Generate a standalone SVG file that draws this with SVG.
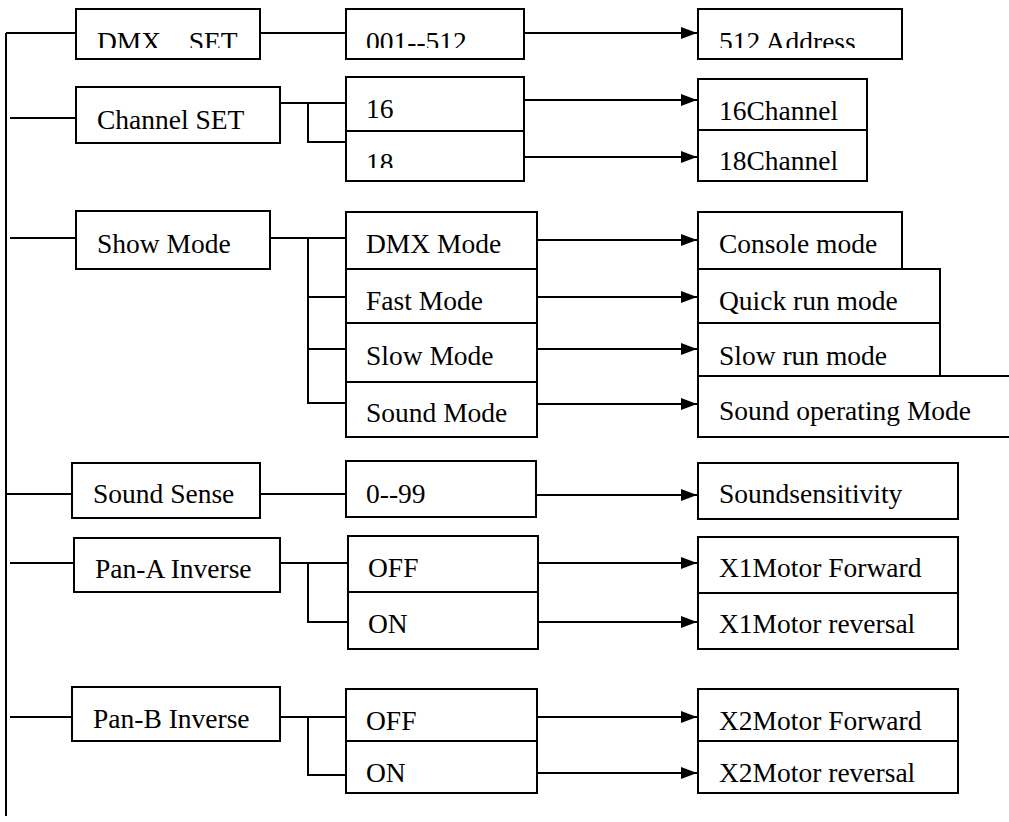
<svg xmlns="http://www.w3.org/2000/svg" width="1009" height="822" viewBox="0 0 1009 822">
<style>
.b{fill:#fff;stroke:#000;stroke-width:2}
.t{font-family:"Liberation Serif","Times New Roman",serif;font-size:27.5px;fill:#000;white-space:pre}
.c{fill:none;stroke:#000;stroke-width:2}
.a{fill:none;stroke:#000;stroke-width:2.2;marker-end:url(#ah)}
</style>
<defs>
<marker id="ah" markerUnits="userSpaceOnUse" markerWidth="16" markerHeight="12" refX="16" refY="6" orient="auto">
<path d="M0,0 L16,6 L0,12 z" fill="#000"/>
</marker>
<clipPath id="top"><rect x="0" y="0" width="1009" height="48"/></clipPath>
<clipPath id="r18"><rect x="340" y="131" width="200" height="37"/></clipPath>
</defs>
<rect width="1009" height="822" fill="#fff"/>
<g id="connectors">
<path class="c" d="M6,33 V816"/>
<path class="c" d="M6,33 H76 M10,118 H76 M10,238 H76 M6,494 H72 M10,563 H74 M10,717 H72"/>
<path class="c" d="M260,33 H346"/>
<path class="c" d="M280,103 H346 M308,103 V142 H346"/>
<path class="c" d="M270,238 H346 M308,238 V403 H346 M308,297 H348 M308,349 H348"/>
<path class="c" d="M260,494 H346"/>
<path class="c" d="M280,563 H348 M308,563 V622 H348"/>
<path class="c" d="M280,717 H346 M308,717 V775 H346"/>
<line class="a" x1="524" y1="33" x2="697" y2="33"/>
<line class="a" x1="524" y1="100" x2="697" y2="100"/>
<line class="a" x1="524" y1="157" x2="697" y2="157"/>
<line class="a" x1="537" y1="240" x2="697" y2="240"/>
<line class="a" x1="537" y1="297" x2="697" y2="297"/>
<line class="a" x1="537" y1="349" x2="697" y2="349"/>
<line class="a" x1="537" y1="404" x2="697" y2="404"/>
<line class="a" x1="536" y1="495" x2="697" y2="495"/>
<line class="a" x1="535" y1="563" x2="697" y2="563"/>
<line class="a" x1="538" y1="622" x2="697" y2="622"/>
<line class="a" x1="537" y1="717" x2="697" y2="717"/>
<line class="a" x1="537" y1="773" x2="697" y2="773"/>
</g>
<g id="n-dmxset"><rect class="b" x="76" y="9" width="184" height="50"/><text class="t" x="97" y="51" clip-path="url(#top)" xml:space="preserve">DMX    SET</text></g>
<g id="n-channelset"><rect class="b" x="76" y="87" width="204" height="56"/><text class="t" x="97" y="129">Channel SET</text></g>
<g id="n-showmode"><rect class="b" x="76" y="211" width="194" height="58"/><text class="t" x="97" y="253">Show Mode</text></g>
<g id="n-soundsense"><rect class="b" x="72" y="463" width="188" height="55"/><text class="t" x="93" y="503">Sound Sense</text></g>
<g id="n-pana"><rect class="b" x="74" y="538" width="206" height="54"/><text class="t" x="95" y="578">Pan-A Inverse</text></g>
<g id="n-panb"><rect class="b" x="72" y="687" width="208" height="54"/><text class="t" x="93" y="728">Pan-B Inverse</text></g>

<g id="n-001"><rect class="b" x="346" y="9" width="178" height="50"/><text class="t" x="366" y="51" clip-path="url(#top)">001--512</text></g>
<g id="n-16"><rect class="b" x="346" y="77" width="178" height="54"/><text class="t" x="366" y="118">16</text></g>
<g id="n-18"><rect class="b" x="346" y="131" width="178" height="50"/><text class="t" x="366" y="172" clip-path="url(#r18)">18</text></g>
<g id="n-dmxmode"><rect class="b" x="346" y="212" width="191" height="57"/><text class="t" x="366" y="253">DMX Mode</text></g>
<g id="n-fastmode"><rect class="b" x="346" y="269" width="191" height="54"/><text class="t" x="366" y="310">Fast Mode</text></g>
<g id="n-slowmode"><rect class="b" x="346" y="323" width="191" height="59"/><text class="t" x="366" y="365">Slow Mode</text></g>
<g id="n-soundmode"><rect class="b" x="346" y="382" width="191" height="55"/><text class="t" x="366" y="422">Sound Mode</text></g>
<g id="n-099"><rect class="b" x="346" y="461" width="190" height="56"/><text class="t" x="366" y="503">0--99</text></g>
<g id="n-offa"><rect class="b" x="348" y="536" width="190" height="56"/><text class="t" x="368" y="577">OFF</text></g>
<g id="n-ona"><rect class="b" x="348" y="592" width="190" height="57"/><text class="t" x="368" y="633">ON</text></g>
<g id="n-offb"><rect class="b" x="346" y="689" width="191" height="52"/><text class="t" x="366" y="730">OFF</text></g>
<g id="n-onb"><rect class="b" x="346" y="741" width="191" height="52"/><text class="t" x="366" y="782">ON</text></g>

<g id="n-512addr"><rect class="b" x="698" y="9" width="204" height="50"/><text class="t" x="719" y="51" clip-path="url(#top)">512 Address</text></g>
<g id="n-16ch"><rect class="b" x="698" y="79" width="169" height="51"/><text class="t" x="719" y="120">16Channel</text></g>
<g id="n-18ch"><rect class="b" x="698" y="130" width="169" height="51"/><text class="t" x="719" y="170">18Channel</text></g>
<g id="n-console"><rect class="b" x="698" y="212" width="204" height="57"/><text class="t" x="719" y="253">Console mode</text></g>
<g id="n-quick"><rect class="b" x="698" y="269" width="242" height="54"/><text class="t" x="719" y="310">Quick run mode</text></g>
<g id="n-slowrun"><rect class="b" x="698" y="323" width="242" height="53"/><text class="t" x="719" y="365">Slow run mode</text></g>
<g id="n-soundop"><rect class="b" x="698" y="376" width="320" height="61"/><text class="t" x="719" y="420">Sound operating Mode</text></g>
<g id="n-sens"><rect class="b" x="698" y="463" width="260" height="56"/><text class="t" x="719" y="503">Soundsensitivity</text></g>
<g id="n-x1f"><rect class="b" x="698" y="537" width="260" height="56"/><text class="t" x="719" y="577">X1Motor Forward</text></g>
<g id="n-x1r"><rect class="b" x="698" y="593" width="260" height="56"/><text class="t" x="719" y="633">X1Motor reversal</text></g>
<g id="n-x2f"><rect class="b" x="698" y="689" width="260" height="52"/><text class="t" x="719" y="730">X2Motor Forward</text></g>
<g id="n-x2r"><rect class="b" x="698" y="741" width="260" height="52"/><text class="t" x="719" y="782">X2Motor reversal</text></g>
</svg>
